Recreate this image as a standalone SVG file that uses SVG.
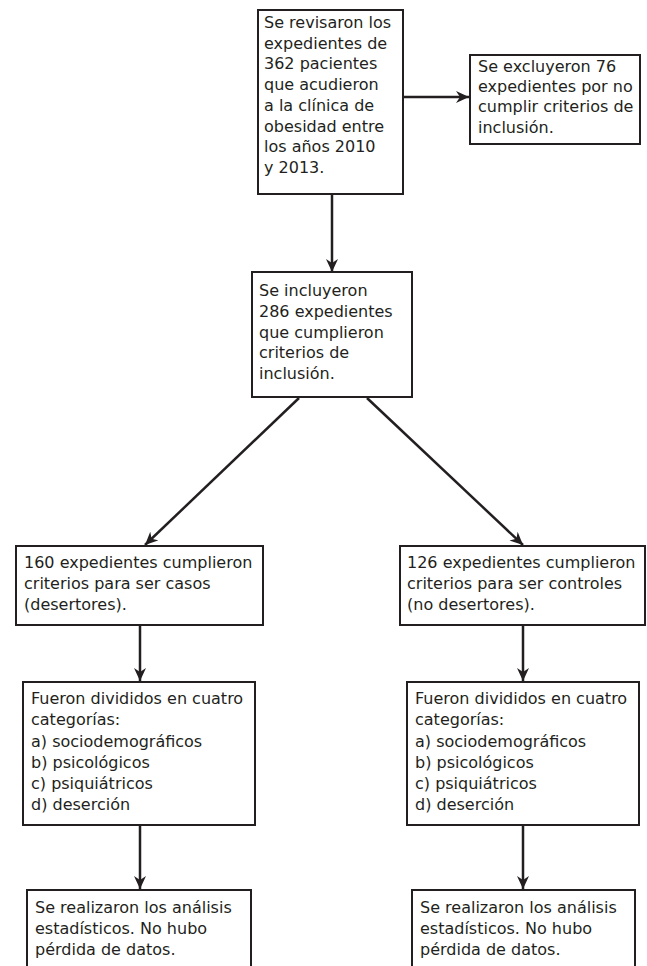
<svg xmlns="http://www.w3.org/2000/svg" width="647" height="966" viewBox="0 0 647 966">
<style>
.box{fill:#fff;stroke:#231f20;stroke-width:2}
.t{font-family:"DejaVu Sans",sans-serif;font-size:16px;fill:#231f20}
.c{stroke:#231f20;stroke-width:2.5;fill:none;marker-end:url(#ah)}
</style>
<defs>
<marker id="ah" markerUnits="userSpaceOnUse" markerWidth="14" markerHeight="12" refX="13" refY="6" orient="auto">
<path d="M0,0 L13,6 L0,12 L4,6 Z" fill="#231f20"/>
</marker>
</defs>
<rect width="647" height="966" fill="#fff"/>
<g id="connectors">
<line class="c" x1="403" y1="97" x2="469" y2="97"/>
<line class="c" x1="332" y1="194" x2="332" y2="272"/>
<line class="c" x1="299" y1="398" x2="145" y2="545"/>
<line class="c" x1="367" y1="398" x2="523" y2="545"/>
<line class="c" x1="140" y1="626" x2="140" y2="681"/>
<line class="c" x1="523" y1="626" x2="523" y2="681"/>
<line class="c" x1="140" y1="826" x2="140" y2="889"/>
<line class="c" x1="523" y1="826" x2="523" y2="889"/>
</g>
<g id="n1">
<rect class="box" x="258" y="10" width="145" height="184"/>
<text class="t"><tspan x="264" y="28">Se revisaron los</tspan><tspan x="264" y="49">expedientes de</tspan><tspan x="264" y="69">362 pacientes</tspan><tspan x="264" y="90">que acudieron</tspan><tspan x="264" y="111">a la clínica de</tspan><tspan x="264" y="132">obesidad entre</tspan><tspan x="264" y="152">los años 2010</tspan><tspan x="264" y="173">y 2013.</tspan></text>
</g>
<g id="n2">
<rect class="box" x="470" y="55" width="170" height="89"/>
<text class="t"><tspan x="478" y="72">Se excluyeron 76</tspan><tspan x="478" y="92">expedientes por no</tspan><tspan x="478" y="112">cumplir criterios de</tspan><tspan x="478" y="133">inclusión.</tspan></text>
</g>
<g id="n3">
<rect class="box" x="252" y="272" width="160" height="125"/>
<text class="t"><tspan x="259" y="296">Se incluyeron</tspan><tspan x="259" y="317">286 expedientes</tspan><tspan x="259" y="338">que cumplieron</tspan><tspan x="259" y="358">criterios de</tspan><tspan x="259" y="379">inclusión.</tspan></text>
</g>
<g id="n4">
<rect class="box" x="16" y="546" width="247" height="79"/>
<text class="t"><tspan x="24" y="568">160 expedientes cumplieron</tspan><tspan x="24" y="589">criterios para ser casos</tspan><tspan x="24" y="610">(desertores).</tspan></text>
</g>
<g id="n5">
<rect class="box" x="400" y="546" width="245" height="79"/>
<text class="t"><tspan x="407" y="568">126 expedientes cumplieron</tspan><tspan x="407" y="589">criterios para ser controles</tspan><tspan x="407" y="610">(no desertores).</tspan></text>
</g>
<g id="n6">
<rect class="box" x="23" y="682" width="232" height="143"/>
<text class="t"><tspan x="31" y="704">Fueron divididos en cuatro</tspan><tspan x="31" y="725">categorías:</tspan><tspan x="31" y="747">a) sociodemográficos</tspan><tspan x="31" y="768">b) psicológicos</tspan><tspan x="31" y="789">c) psiquiátricos</tspan><tspan x="31" y="810">d) deserción</tspan></text>
</g>
<g id="n7">
<rect class="box" x="407" y="682" width="232" height="143"/>
<text class="t"><tspan x="415" y="704">Fueron divididos en cuatro</tspan><tspan x="415" y="725">categorías:</tspan><tspan x="415" y="747">a) sociodemográficos</tspan><tspan x="415" y="768">b) psicológicos</tspan><tspan x="415" y="789">c) psiquiátricos</tspan><tspan x="415" y="810">d) deserción</tspan></text>
</g>
<g id="n8">
<rect class="box" x="27" y="890" width="224" height="90"/>
<text class="t"><tspan x="35" y="913">Se realizaron los análisis</tspan><tspan x="35" y="934">estadísticos. No hubo</tspan><tspan x="35" y="955">pérdida de datos.</tspan></text>
</g>
<g id="n9">
<rect class="box" x="412" y="890" width="223" height="90"/>
<text class="t"><tspan x="420" y="913">Se realizaron los análisis</tspan><tspan x="420" y="934">estadísticos. No hubo</tspan><tspan x="420" y="955">pérdida de datos.</tspan></text>
</g>
</svg>
